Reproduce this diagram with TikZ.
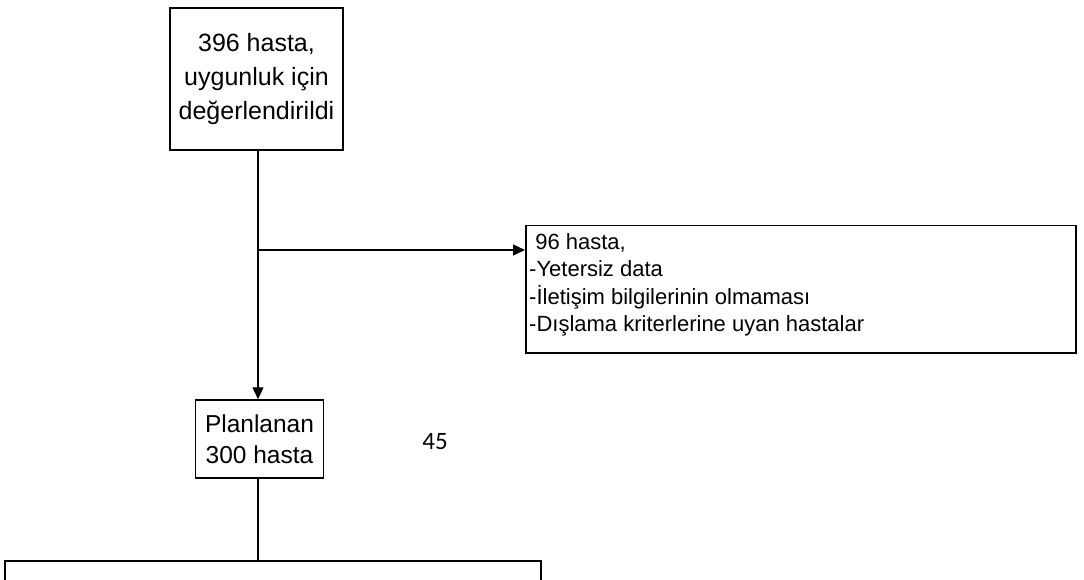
\documentclass[tikz,border=0pt]{standalone}
\usepackage{fontspec}
\setmainfont{Liberation Sans}
\newfontfamily\calibri{Carlito}
\usetikzlibrary{arrows.meta}
\tikzset{
  box/.style={draw, line width=1.5pt, inner sep=0pt, align=center},
  conn/.style={line width=1.3pt},
  arr/.style={conn, -{Triangle[length=12pt,width=11pt]}}
}
\begin{document}
\begin{tikzpicture}[x=1pt,y=-1pt]
\clip (0,0) rectangle (1084,580);
\fill[white] (0,0) rectangle (1084,580);
\node[box, minimum width=173pt, minimum height=142pt, font=\fontsize{25}{34}\selectfont] (top) at (256.5,79) {396 hasta,\\uygunluk için\\değerlendirildi};
\node[box, minimum width=128pt, minimum height=78pt, font=\fontsize{24.5}{31}\selectfont] (plan) at (259.5,439) {Planlanan\\300 hasta};
\node[box, anchor=north west, minimum width=550pt, minimum height=127pt] (rb) at (525,225) {};
\node[anchor=north west, align=left, inner sep=0pt, font=\fontsize{22}{27.5}\selectfont] (rbt) at (529,233) {\ 96 hasta,\\-Yetersiz data\\-İletişim bilgilerinin olmaması\\-Dışlama kriterlerine uyan hastalar};
\node[font=\calibri\fontsize{25}{30}\selectfont, inner sep=0pt] (n45) at (435,442) {45};
\node[box, anchor=north west, minimum width=536pt, minimum height=60pt] (bot) at (4,560) {};
\coordinate (br) at (258,250);
\draw[arr] (top.south -| br) -- (plan.north -| br);
\draw[arr] (br) -- (rb.west |- br);
\draw[conn] (plan.south -| br) -- (bot.north -| br);
\end{tikzpicture}
\end{document}
